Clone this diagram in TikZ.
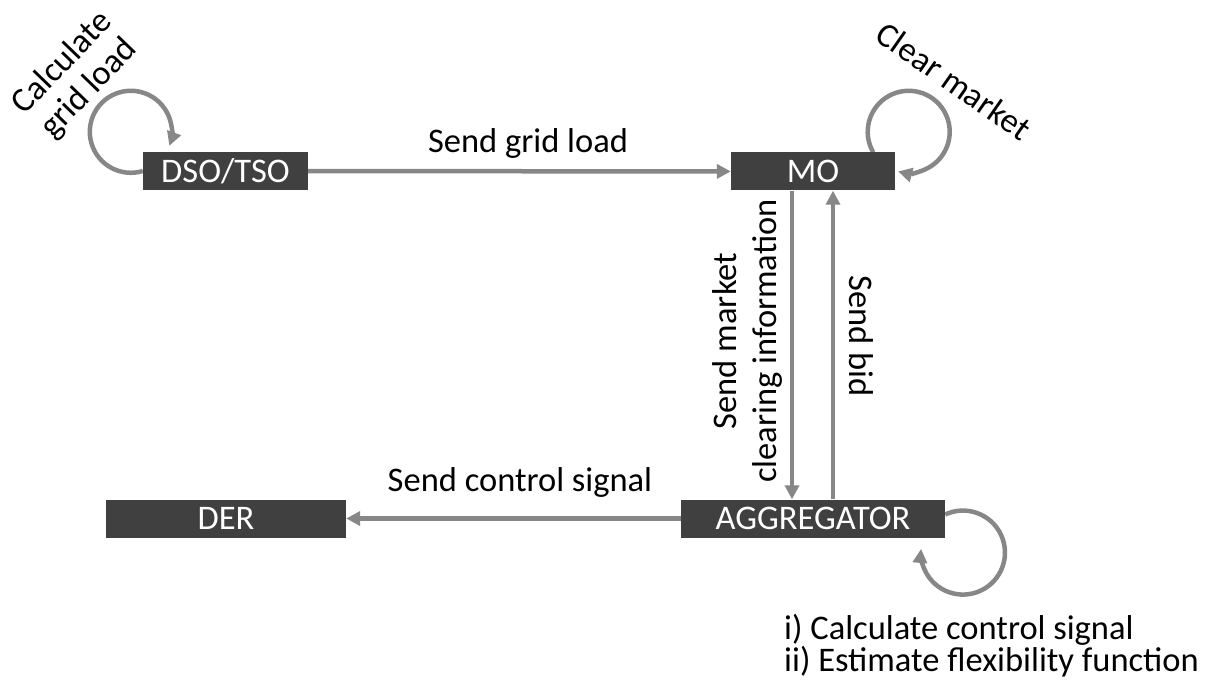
\documentclass[tikz,border=0pt]{standalone}
\usepackage{fontspec}
\setmainfont{Carlito}
\usetikzlibrary{arrows.meta,backgrounds}
\definecolor{boxgray}{HTML}{404040}
\definecolor{flowgray}{HTML}{878787}
\newcommand{\diagfont}{\fontsize{34.5}{41}\selectfont}

\begin{document}
\begin{tikzpicture}[x=1pt,y=1pt,font=\diagfont,
  actor/.style={fill=boxgray,text=white,minimum height=38pt,inner sep=0pt},
  flow/.style={draw=flowgray,line width=4.5pt,-{Triangle[length=14pt,width=14pt]}},
  lbl/.style={inner sep=0pt,align=center}]
\useasboundingbox (0,0) rectangle (1212,-684);

% ---------------- actors ----------------------------------------------------
\node[actor,minimum width=165pt] (dso) at (225.5,-171) {DSO/TSO};
\node[actor,minimum width=164pt] (mo) at (813,-171.5) {MO};
\node[actor,minimum width=264pt] (agg) at (813,-518.5) {AGGREGATOR};
\node[actor,minimum width=240pt] (der) at (226,-518.5) {DER};

% ---------------- messages between actors -----------------------------------
\begin{scope}[on background layer]
  \draw[flow] (dso) -- (mo);
  \draw[flow] (agg) -- (der);
  \draw[flow] ([xshift=-21pt]mo.south) -- ([xshift=-21pt]agg.north);
  \draw[flow] ([xshift=20pt]agg.north) -- ([xshift=20pt]mo.south);
  % self loops
  \draw[flow] (dso.west) arc[start angle=-73,end angle=-380,radius=41pt];
  \draw[flow] ([xshift=-22pt]mo.north east) arc[start angle=-150,end angle=-465,radius=41pt];
  \draw[flow] ([yshift=4pt]agg.east) arc[start angle=-245,end angle=-545,radius=42pt];
\end{scope}

% ---------------- labels ----------------------------------------------------
\node[lbl,rotate=46] (calclbl) at (76,-76) {Calculate\\[-4pt]grid load};
\node[lbl,rotate=-35] (clearlbl) at (954,-81) {Clear market};
\node[lbl,anchor=base] (gridlbl) at (528,-153) {Send grid load};
\node[lbl,anchor=base] (ctrllbl) at (520,-491) {Send control signal};
\node[lbl,rotate=90] (clearinglbl) at (747,-341) {Send market\\[-1pt]clearing information};
\node[lbl,rotate=-90] (bidlbl) at (861,-336) {Send bid};
\node[lbl,align=left,anchor=west] (tasklbl) at (784,-646)
  {i) Calculate control signal\\[-9pt]ii) Estimate flexibility function};

\end{tikzpicture}
\end{document}
